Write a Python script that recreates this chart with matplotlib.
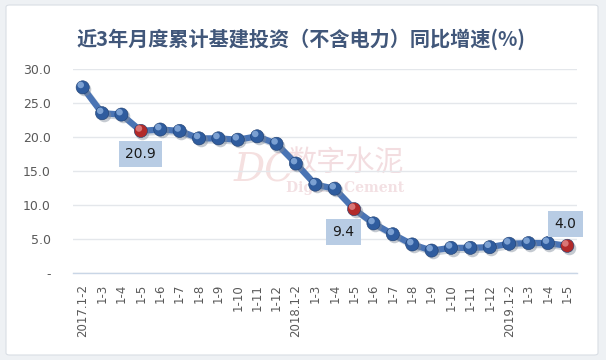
import matplotlib.pyplot as plt
from matplotlib.patches import FancyBboxPatch
import matplotlib.patheffects as pe
import numpy as np

plt.rcParams['font.family'] = ['Noto Sans CJK SC', 'DejaVu Sans']

labels = ['2017.1-2', '1-3', '1-4', '1-5', '1-6', '1-7', '1-8', '1-9', '1-10', '1-11', '1-12',
          '2018.1-2', '1-3', '1-4', '1-5', '1-6', '1-7', '1-8', '1-9', '1-10', '1-11', '1-12',
          '2019.1-2', '1-3', '1-4', '1-5']
values = [27.3, 23.5, 23.3, 20.9, 21.1, 20.9, 19.8, 19.8, 19.6, 20.1, 19.0,
          16.1, 13.0, 12.4, 9.4, 7.3, 5.7, 4.2, 3.3, 3.7, 3.7, 3.8,
          4.3, 4.4, 4.4, 4.0]
highlight = [3, 14, 25]
yticks = [0, 5, 10, 15, 20, 25, 30]
ytick_labels = ['-', '5.0', '10.0', '15.0', '20.0', '25.0', '30.0']

W, H = 606, 360
fig = plt.figure(figsize=(W / 100, H / 100), dpi=100)
fig.patch.set_facecolor('#eef1f4')
box = FancyBboxPatch((6 / W, 5 / H), 592 / W, 350 / H, boxstyle='round,pad=0,rounding_size=0.006',
                     transform=fig.transFigure, facecolor='white', edgecolor='#d9dee4', linewidth=0.8,
                     zorder=-2)
fig.patches.append(box)

ax = fig.add_axes([73 / W, 87 / H, 504 / W, 204 / H])
ax.set_facecolor('none')
x = np.arange(len(values))

# watermark (positions given from the top of the picture)
fig.text(346 / W, 1 - 163 / H, '数字水泥', fontsize=21, fontweight='light', color='#f3dde0',
         ha='center', va='center', zorder=-1)
fig.text(345 / W, 1 - 188 / H, 'Digital Cement', fontsize=10, color='#f3e0e3', ha='center', va='center',
         fontfamily='DejaVu Serif', fontweight='bold', zorder=-1)
fig.text(264 / W, 1 - 171 / H, 'DC', fontsize=28, color='#f5e0e0', ha='center', va='center',
         fontfamily='DejaVu Serif', style='italic', zorder=-1)

ax.plot(x, values, color='#4a74b4', linewidth=4.5, solid_capstyle='round', zorder=2,
        path_effects=[pe.SimpleLineShadow(offset=(1.5, -1.5), shadow_color='#9aa8b8', alpha=0.5), pe.Normal()])

cols = ['#b22a2a' if i in highlight else '#2f5c9e' for i in x]
hl = ['#e48a8a' if i in highlight else '#8fb2e0' for i in x]
ax.scatter(x + 0.08, np.array(values) - 0.25, s=95, color='#7f8a99', alpha=0.45, zorder=3, linewidths=0)
ax.scatter(x, values, s=90, c=cols, edgecolors='#1f3f70', linewidths=0.4, zorder=4)
ax.scatter(x - 0.1, np.array(values) + 0.35, s=22, c=hl, alpha=0.8, linewidths=0, zorder=5)

for i, dx, dy in [(3, 0.0, -3.4), (14, -0.55, -3.4), (25, -0.1, 3.2)]:
    ax.text(i + dx, values[i] + dy, f'{values[i]:.1f}', fontsize=10, color='#1a1a1a', ha='center', va='center',
            fontfamily='DejaVu Sans', zorder=6,
            bbox=dict(boxstyle='square,pad=0.45', facecolor='#b8cce4', edgecolor='none'))

ax.set_xlim(-0.5, len(values) - 0.5)
ax.set_ylim(0, 30)
ax.set_yticks(yticks)
ax.set_yticklabels(ytick_labels, fontsize=9, color='#595959', fontfamily='DejaVu Sans')
ax.set_xticks(x)
ax.set_xticklabels(labels, rotation=90, fontsize=8.5, color='#595959', fontfamily='DejaVu Sans')
ax.tick_params(length=0, pad=8)
ax.tick_params(axis='y', pad=16)
ax.grid(axis='y', color='#e4e7eb', linewidth=1)
ax.set_axisbelow(True)
for s in ['top', 'right', 'left']:
    ax.spines[s].set_visible(False)
ax.spines['bottom'].set_color('#c9d6e6')
ax.spines['bottom'].set_linewidth(1)

fig.text(301 / W, 321 / H, '近3年月度累计基建投资（不含电力）同比增速(%)', fontsize=14.5, fontweight='bold',
         color='#41577a', ha='center', va='center')

fig.savefig('out.png', dpi=100, facecolor=fig.get_facecolor())
